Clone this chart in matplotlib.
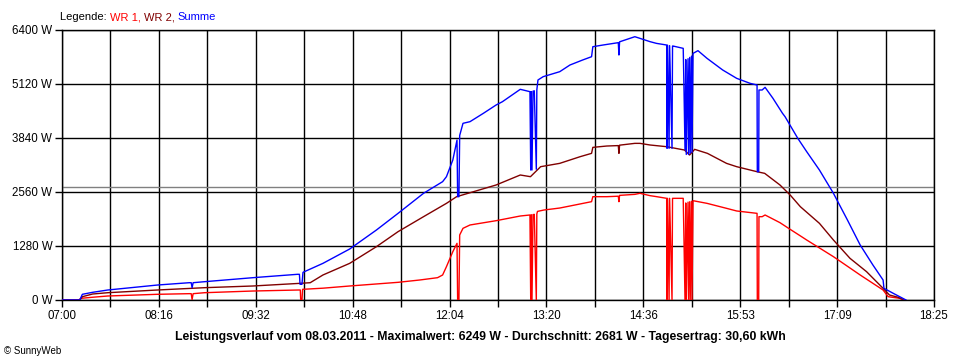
import matplotlib
matplotlib.use("Agg")
import matplotlib.pyplot as plt
import numpy as np

# ---- data (time in minutes after midnight, power in W) ----
t_wr1 = [420, 433, 435, 444, 456, 495, 520, 521.5, 522.2, 523, 532, 570, 606, 607.2, 607.5, 608.5, 609,
         625, 646, 684, 701, 715, 719, 722, 727, 730.3, 730.8, 731.8, 732.4, 735, 740.5, 761, 780, 787.6,
         788.2, 788.6, 789.2, 790.0, 790.4, 791.0, 792.6, 793.0, 793.5, 798.6, 811, 819, 836, 837, 848,
         857.0, 857.5, 858.0, 870, 874, 882, 887, 895, 895.3, 895.7, 896.9, 897.3, 899.2, 899.6, 900, 908,
         908.6, 909.4, 910, 910.4, 911.8, 912.2, 913.1, 913.5, 914.5, 914.9, 915.7, 926.7, 942, 950, 966,
         966.2, 967.3, 967.5, 970, 972.3, 984, 992, 1000, 1005, 1026, 1047, 1065, 1069, 1078, 1082]
p_wr1 = [0, 0, 40, 65, 95, 135, 150, 150, 10, 150, 173, 213, 237, 237, 0, 0, 253,
         280, 332, 419, 474, 529, 593, 790, 1145, 1343, 0, 0, 1541, 1699, 1778, 1880, 1991, 2015,
         0, 2020, 0, 2025, 2025, 2030, 0, 2040, 2100, 2133, 2180, 2228, 2331, 2449, 2449,
         2460, 2330, 2480, 2504, 2529, 2473, 2450, 2410, 0, 2410, 0, 2410, 0, 2410, 2410, 2410,
         1422, 0, 2300, 0, 2320, 0, 2330, 0, 2340, 0, 2354, 2291, 2173, 2110, 2054,
         0, 0, 1975, 1975, 2015, 1833, 1675, 1520, 1422, 1027, 593, 237, 79, 40, 0]

t_wr2 = [420, 434, 436, 444, 456, 495, 532, 570, 607, 615, 625, 646, 667, 684, 704, 722, 730, 761, 780,
         788, 796, 811, 827, 836, 837, 848, 857.0, 857.5, 858.0, 870, 874, 882, 895, 909, 913, 917, 927, 942,
         950, 966, 972, 984, 992, 1000, 1015, 1026, 1039, 1052, 1065, 1070, 1077, 1081]
p_wr2 = [0, 0, 78, 142, 173, 237, 292, 332, 395, 410, 593, 869, 1264, 1620, 1975, 2291, 2449, 2726, 2963,
         2923, 3160, 3239, 3397, 3476, 3618, 3650, 3660, 3476, 3670, 3713, 3713, 3674, 3634, 3555, 3437, 3571,
         3476, 3239, 3160, 3041, 3002, 2726, 2489, 2212, 1817, 1422, 988, 672, 277, 119, 63, 0]

t_sum = [420, 434, 436, 444, 456, 495, 520, 521.5, 522.2, 523, 532, 570, 605, 606.5, 607, 608.5, 609.3,
         625, 646, 667, 684, 704, 719, 722, 727, 730.3, 730.8, 731.8, 732.4, 735, 740.5, 751, 761, 766,
         780, 787.6, 788.2, 788.6, 789.2, 790.0, 790.4, 791.0, 792.6, 793.0, 793.9, 798, 811, 819, 829,
         836, 837, 845, 857.0, 857.5, 858.0, 870, 874, 882, 887, 895, 895.3, 895.7, 896.9, 897.3, 899.2, 899.6,
         900, 908, 908.6, 909.4, 910, 910.4, 911.8, 912.2, 913.1, 913.5, 914.5, 914.9, 915.7, 919.6,
         926.7, 939, 950, 960.5, 966, 966.2, 967.3, 967.5, 970, 972.3, 978.5, 986, 988, 998, 1005, 1015,
         1026, 1037, 1047, 1057, 1065, 1065.7, 1073, 1078, 1082, 1083]
p_sum = [0, 0, 135, 182, 237, 355, 410, 410, 290, 410, 434, 529, 609, 609, 372, 372, 656,
         869, 1209, 1659, 2054, 2529, 2805, 2923, 3318, 3792, 2449, 2449, 3900, 4188, 4227, 4425, 4622, 4701,
         4994, 4938, 3081, 4940, 3081, 4950, 4950, 4960, 3100, 4980, 5215, 5294, 5412, 5570, 5689,
         5767, 6004, 6044, 6100, 5807, 6120, 6241, 6202, 6123, 6083, 6044, 3595, 6040, 3595, 6030, 3595, 6020,
         6020, 5965, 5017, 3560, 5700, 3450, 5720, 3450, 5750, 3480, 5780, 3500, 5846, 5910,
         5728, 5452, 5254, 5136, 5096, 3041, 3041, 4978, 4978, 5041, 4780, 4425, 4345, 3832, 3516, 3081,
         2529, 1896, 1304, 830, 474, 277, 158, 79, 16, 0]

average_w = 2681
x_tick_labels = ["07:00", "08:16", "09:32", "10:48", "12:04", "13:20", "14:36", "15:53", "17:09", "18:25"]
y_tick_values = [0, 1280, 2560, 3840, 5120, 6400]
title_text = ("Leistungsverlauf vom 08.03.2011 - Maximalwert: 6249 W - Durchschnitt: 2681 W - "
              "Tagesertrag: 30,60 kWh")

# ---- figure ----
plt.rcParams['font.family'] = ['Liberation Sans', 'DejaVu Sans']
fig = plt.figure(figsize=(9.6, 3.6), dpi=100)
ax = fig.add_axes([62 / 960, 1 - 300 / 360, 872 / 960, 270 / 360])

t0, t1 = 420, 1105
ax.set_xlim(t0, t1)
ax.set_ylim(0, 6400)

major = np.linspace(t0, t1, len(x_tick_labels))
minor = np.linspace(t0, t1, 2 * (len(x_tick_labels) - 1) + 1)
ax.set_xticks(minor)
ax.set_xticklabels([x_tick_labels[i // 2] if i % 2 == 0 else "" for i in range(len(minor))])
ax.set_yticks(y_tick_values)
ax.set_yticklabels([f"{v} W" for v in y_tick_values])
ax.tick_params(axis='both', direction='out', length=5, width=1, color='black',
               labelsize=8.3, pad=2)

lw_grid = 1.0
for x in minor:
    ax.axvline(x, color='black', lw=lw_grid, zorder=1)
for y in y_tick_values:
    ax.axhline(y, color='black', lw=lw_grid, zorder=1)
ax.axhline(average_w, color='#808080', lw=lw_grid, zorder=1)

for s in ax.spines.values():
    s.set_color('black')
    s.set_linewidth(1.0)

ax.plot(t_wr1, p_wr1, color='#ff0000', lw=1.0, zorder=3)
ax.plot(t_wr2, p_wr2, color='#800000', lw=1.0, zorder=3)
ax.plot(t_sum, p_sum, color='#0000ff', lw=1.0, zorder=4)

# legend text
parts = [("Legende: ", 'black'), ("WR 1, ", '#ff0000'), ("WR 2, ", '#800000'), ("Summe", '#0000ff')]
x_px = 60
renderer = fig.canvas.get_renderer()
for txt, col in parts:
    t = fig.text(x_px / 960, 1 - 17 / 360, txt, color=col, fontsize=8, va='center', ha='left')
    bb = t.get_window_extent(renderer=renderer)
    x_px += bb.width

fig.text(480 / 960, 1 - 337 / 360, title_text, fontsize=8.8, fontweight='bold', ha='center', va='center')
fig.text(4 / 960, 1 - 351 / 360, "© SunnyWeb", fontsize=7, ha='left', va='center')

fig.savefig("out.png", dpi=100, facecolor='white')
